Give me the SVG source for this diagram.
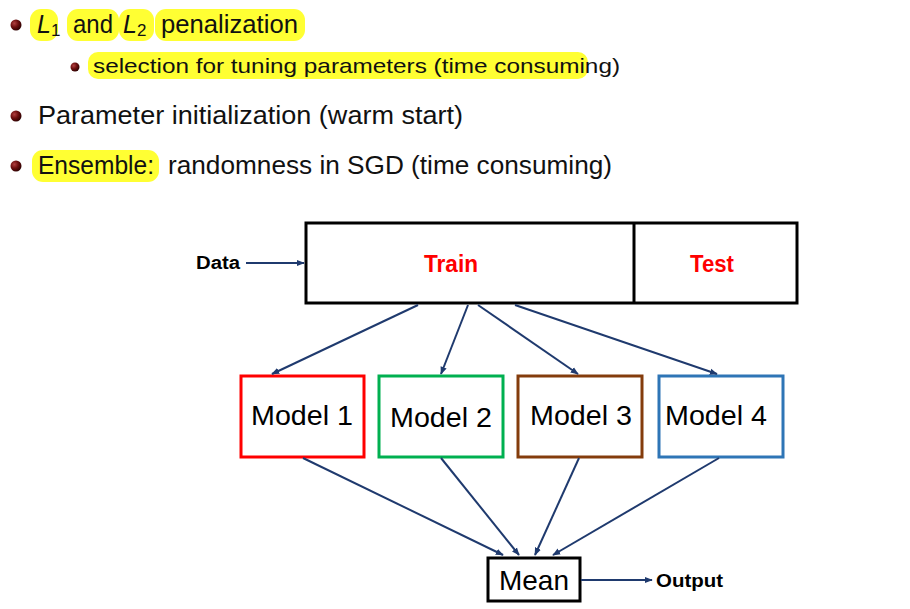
<svg xmlns="http://www.w3.org/2000/svg" width="910" height="609" viewBox="0 0 910 609">
<defs>
<radialGradient id="ball" cx="0.35" cy="0.35" r="0.7">
<stop offset="0" stop-color="#b04040"/>
<stop offset="0.5" stop-color="#6e0f0f"/>
<stop offset="1" stop-color="#2a0000"/>
</radialGradient>
<marker id="ah" viewBox="0 0 10 10" refX="9" refY="5" markerWidth="8" markerHeight="8" markerUnits="userSpaceOnUse" orient="auto">
<path d="M0,1 L10,5 L0,9 z" fill="#1f3a6e"/>
</marker>
<style>
.t{font-family:"Liberation Sans","DejaVu Sans",sans-serif;fill:#111}
.hl{fill:#ffff33}
.box{fill:#fff;stroke-width:3}
.lbl{font-family:"Liberation Sans",Arial,sans-serif;font-size:28px;fill:#000;text-anchor:middle}
.bold{font-family:"Liberation Sans",Arial,sans-serif;font-weight:bold}
.c{stroke:#1f3a6e;stroke-width:2;fill:none;marker-end:url(#ah)}
</style>
</defs>
<rect width="910" height="609" fill="#fff"/>

<g id="bullets">
<rect class="hl" x="30" y="9" width="28" height="32" rx="11"/>
<rect class="hl" x="67" y="9" width="52" height="32" rx="11"/>
<rect class="hl" x="119" y="9" width="35" height="32" rx="11"/>
<rect class="hl" x="155" y="9" width="150" height="32" rx="11"/>
<rect class="hl" x="88" y="52" width="500" height="27" rx="10"/>
<rect class="hl" x="32" y="150" width="127" height="32" rx="11"/>

<circle cx="16" cy="25" r="5.5" fill="url(#ball)"/>
<circle cx="75" cy="67" r="4.5" fill="url(#ball)"/>
<circle cx="16" cy="116" r="5.5" fill="url(#ball)"/>
<circle cx="16" cy="166" r="5.5" fill="url(#ball)"/>

<text class="t" x="37" y="33" font-size="25"><tspan font-style="italic">L</tspan><tspan font-size="17" dy="3">1</tspan></text>
<text class="t" x="73" y="33" font-size="25" textLength="40" lengthAdjust="spacingAndGlyphs">and</text>
<text class="t" x="123" y="33" font-size="25"><tspan font-style="italic">L</tspan><tspan font-size="17" dy="3">2</tspan></text>
<text class="t" x="161" y="33" font-size="25" textLength="137" lengthAdjust="spacingAndGlyphs">penalization</text>
<text class="t" x="93" y="73" font-size="21" textLength="527" lengthAdjust="spacingAndGlyphs">selection for tuning parameters (time consuming)</text>
<text class="t" x="38" y="124" font-size="25" textLength="425" lengthAdjust="spacingAndGlyphs">Parameter initialization (warm start)</text>
<text class="t" x="38" y="174" font-size="25" textLength="116" lengthAdjust="spacingAndGlyphs">Ensemble:</text>
<text class="t" x="168" y="174" font-size="25" textLength="444" lengthAdjust="spacingAndGlyphs">randomness in SGD (time consuming)</text>
</g>

<g id="data">
<text class="bold" x="196" y="269" font-size="18" textLength="44" lengthAdjust="spacingAndGlyphs">Data</text>
</g>
<g id="split">
<rect x="306" y="223" width="491" height="80" fill="#fff" stroke="#000" stroke-width="3"/>
<line x1="634" y1="223" x2="634" y2="303" stroke="#000" stroke-width="3"/>
<text class="bold" x="451" y="272" font-size="23" fill="#ff0000" text-anchor="middle" textLength="54" lengthAdjust="spacingAndGlyphs">Train</text>
<text class="bold" x="712" y="272" font-size="23" fill="#ff0000" text-anchor="middle" textLength="44" lengthAdjust="spacingAndGlyphs">Test</text>
</g>

<g id="model1"><rect class="box" x="241" y="376" width="123" height="81" stroke="#ff0000"/><text class="lbl" x="302" y="425" textLength="102" lengthAdjust="spacingAndGlyphs">Model 1</text></g>
<g id="model2"><rect class="box" x="379" y="376" width="124" height="81" stroke="#00b050"/><text class="lbl" x="441" y="427" textLength="102" lengthAdjust="spacingAndGlyphs">Model 2</text></g>
<g id="model3"><rect class="box" x="518" y="376" width="124" height="81" stroke="#843c0c"/><text class="lbl" x="581" y="425" textLength="102" lengthAdjust="spacingAndGlyphs">Model 3</text></g>
<g id="model4"><rect class="box" x="659" y="376" width="124" height="81" stroke="#2e75b6"/><text class="lbl" x="716" y="425" textLength="102" lengthAdjust="spacingAndGlyphs">Model 4</text></g>

<g id="mean"><rect x="488" y="558" width="92" height="43" fill="#fff" stroke="#000" stroke-width="3"/><text class="lbl" x="534" y="590" textLength="70" lengthAdjust="spacingAndGlyphs">Mean</text></g>
<g id="output"><text class="bold" x="656" y="587" font-size="18" textLength="67" lengthAdjust="spacingAndGlyphs">Output</text></g>

<g id="connectors">
<line class="c" x1="246" y1="263" x2="304" y2="263"/>
<line class="c" x1="418" y1="305" x2="272" y2="374"/>
<line class="c" x1="468" y1="305" x2="441" y2="374"/>
<line class="c" x1="478" y1="305" x2="578" y2="374"/>
<line class="c" x1="515" y1="305" x2="717" y2="374"/>
<line class="c" x1="303" y1="458" x2="503" y2="555"/>
<line class="c" x1="441" y1="458" x2="519" y2="555"/>
<line class="c" x1="579" y1="458" x2="535" y2="555"/>
<line class="c" x1="719" y1="458" x2="553" y2="555"/>
<line class="c" x1="581" y1="580" x2="652" y2="580"/>
</g>
</svg>
